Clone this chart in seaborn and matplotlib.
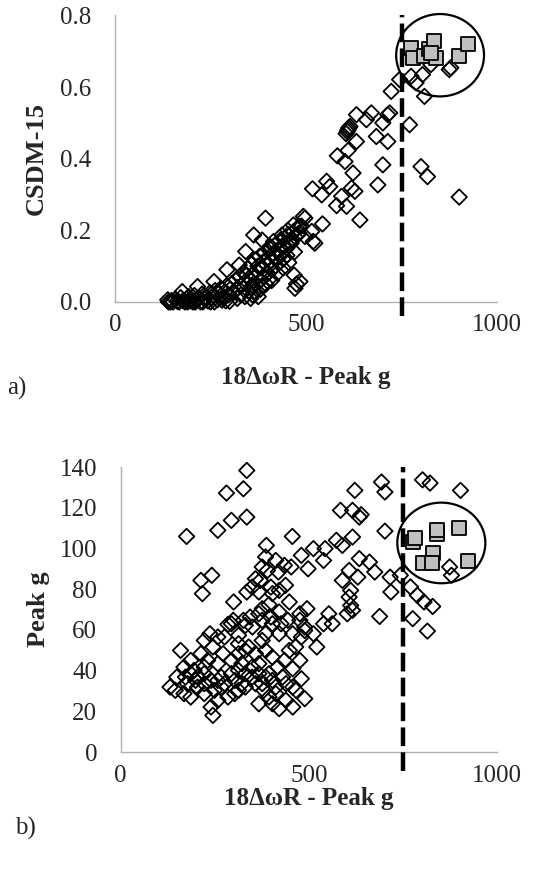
import matplotlib
matplotlib.use('Agg')
import matplotlib.pyplot as plt
import seaborn as sns
import pandas as pd
from matplotlib.patches import Ellipse
from matplotlib.ticker import FormatStrFormatter

# a) CSDM-15 vs 18ΔωR - Peak g
csdm_x = [
    875, 879, 827, 805, 775, 788, 745, 810, 723, 771, 801, 818, 901,
    632, 671, 658, 701, 714, 719, 684, 714, 701, 688, 623, 605, 610, 615, 608, 612,
    632, 582, 610, 602, 517, 554, 562, 541, 619, 628, 593, 580, 606, 641, 497, 543,
    467, 515, 523,
    394, 363, 385, 437, 493, 342, 293, 259, 216, 176, 138, 484, 471, 469, 475, 325,
    406, 415, 483, 478, 452, 461, 441, 497, 519,
    140, 148, 152, 158, 163, 168, 172, 178, 183, 188, 193, 198, 204, 208, 213, 219,
    224, 228, 234, 238, 243, 249, 253, 258, 262, 268, 272, 277, 283, 287, 292, 297,
    302, 306, 311, 317, 321, 326, 331, 336, 339, 344, 348, 353, 357, 362, 366, 371,
    374, 379, 383, 388, 392, 397, 401, 406, 409, 414, 418, 423, 427, 432, 436, 441,
    444, 449, 453, 458, 462, 466, 471, 476, 481, 488,
    330, 350, 360, 370, 380, 390, 400, 410, 420, 430, 440, 450, 360, 380, 395, 410,
    425, 440, 455, 470, 375, 260, 280, 300, 320, 340, 145, 190, 210, 230, 250, 290,
    355, 365, 385, 405,
]
csdm_y = [
    0.649, 0.654, 0.663, 0.635, 0.630, 0.612, 0.621, 0.574, 0.588, 0.495, 0.378, 0.350, 0.293,
    0.523, 0.528, 0.509, 0.500, 0.523, 0.528, 0.462, 0.448, 0.383, 0.327, 0.360, 0.470, 0.481, 0.490, 0.476, 0.486,
    0.448, 0.408, 0.423, 0.392, 0.316, 0.337, 0.322, 0.299, 0.318, 0.309, 0.295, 0.269, 0.267, 0.229, 0.234, 0.218,
    0.215, 0.197, 0.164,
    0.234, 0.187, 0.173, 0.187, 0.239, 0.141, 0.090, 0.057, 0.043, 0.029, 0.006, 0.057, 0.038, 0.075, 0.050, 0.103,
    0.155, 0.169, 0.211, 0.187, 0.200, 0.164, 0.155, 0.183, 0.169,
    0.000, 0.004, 0.000, 0.008, 0.002, 0.000, 0.012, 0.004, 0.000, 0.009, 0.015, 0.003, 0.000, 0.018, 0.006, 0.011,
    0.000, 0.022, 0.008, 0.014, 0.003, 0.026, 0.012, 0.019, 0.032, 0.006, 0.024, 0.038, 0.015, 0.028, 0.045, 0.020,
    0.036, 0.052, 0.028, 0.062, 0.040, 0.070, 0.046, 0.082, 0.055, 0.074, 0.092, 0.062, 0.105, 0.079, 0.118, 0.088,
    0.100, 0.128, 0.095, 0.112, 0.138, 0.104, 0.122, 0.148, 0.115, 0.135, 0.158, 0.125, 0.145, 0.172, 0.136, 0.160,
    0.178, 0.150, 0.188, 0.165, 0.176, 0.195, 0.182, 0.205, 0.192, 0.212,
    0.020, 0.030, 0.045, 0.050, 0.060, 0.070, 0.080, 0.090, 0.100, 0.110, 0.120, 0.130, 0.020, 0.035, 0.050, 0.060,
    0.080, 0.095, 0.110, 0.140, 0.015, 0.000, 0.005, 0.002, 0.010, 0.015, 0.000, 0.000, 0.000, 0.000, 0.000, 0.003,
    0.010, 0.030, 0.045, 0.065,
]
csdm_hi_x = [775, 779, 810, 823, 836, 840, 827, 901, 923]
csdm_hi_y = [0.710, 0.682, 0.686, 0.705, 0.728, 0.682, 0.696, 0.686, 0.719]

# b) Peak g vs 18ΔωR - Peak g
peak_x = [
    335, 326, 281, 294, 335, 258, 175, 213, 242, 217, 300, 456, 387, 376, 385, 412,
    435, 419, 438, 453, 480, 498, 512, 539, 543, 573, 589, 616, 622, 584, 616, 634,
    639, 693, 702, 702, 675, 661, 634, 607, 630, 589, 611, 607, 611, 616, 602, 688,
    553, 562, 539, 716, 718, 743, 770, 788, 806, 829, 776, 815, 802, 822, 903, 874,
    879,
    448, 495, 421, 376, 394, 367, 344, 299, 285, 237, 222, 258, 313, 331, 385, 403,
    426, 457, 489, 480, 521, 465, 448, 435, 476, 457, 417, 394, 367, 358, 340, 313,
    294, 272, 258, 245, 213, 186, 159, 168, 195, 222, 240, 267, 303, 331, 349, 376,
    403, 430, 457, 480, 466, 439, 489, 457, 421, 403, 367, 394, 412, 313, 285, 258,
    245, 240, 222, 204, 177, 149, 131, 145, 168, 186, 172, 204, 186, 222, 231, 313,
    294, 322, 349, 367, 385, 358, 331, 267, 249, 276, 380, 412, 439, 222, 199, 258,
    303, 322, 476, 444, 421, 385, 403, 376, 350, 399, 376, 421, 403, 367, 335, 349,
    371, 390, 358, 399, 326, 294, 276, 313, 331, 476, 489, 512,
]
peak_y = [
    138.3, 129.3, 127.2, 113.8, 115.4, 108.9, 105.9, 84.3, 86.8, 77.8, 73.7, 105.9, 101.5, 90.9, 95.8, 94.1,
    91.7, 88.4, 81.9, 90.9, 96.6, 90.0, 99.9, 94.1, 99.9, 104.0, 101.5, 105.6, 128.5, 118.7, 118.7, 115.4,
    116.6, 132.6, 127.7, 108.5, 88.4, 93.3, 95.0, 89.2, 85.9, 84.3, 79.4, 76.1, 72.0, 69.6, 67.9, 66.6,
    67.9, 63.0, 63.0, 85.9, 78.6, 86.8, 81.1, 77.0, 73.7, 71.5, 65.5, 59.4, 133.7, 132.1, 128.5, 90.9,
    86.8,
    73.7, 70.4, 68.8, 70.4, 72.4, 67.9, 66.3, 64.7, 62.7, 58.1, 54.8, 56.5, 57.3, 62.2, 58.1, 63.0,
    63.0, 58.1, 59.7, 56.5, 51.6, 51.6, 49.9, 45.0, 45.0, 40.9, 41.7, 38.5, 43.4, 48.3, 51.6, 48.3,
    45.0, 48.3, 43.4, 51.6, 48.3, 45.0, 49.9, 41.7, 40.1, 38.5, 35.2, 36.8, 35.2, 38.5, 36.8, 33.6,
    35.2, 36.8, 31.9, 36.0, 30.3, 25.4, 26.2, 22.1, 21.3, 23.7, 23.7, 27.0, 28.7, 30.3, 27.0, 25.4,
    18.0, 22.1, 28.7, 31.9, 33.6, 36.8, 31.9, 30.3, 28.7, 27.0, 36.8, 36.8, 38.5, 41.7, 45.0, 40.1,
    38.5, 43.4, 41.7, 38.5, 36.8, 33.6, 31.9, 31.9, 30.3, 33.6, 30.3, 31.9, 33.6, 33.6, 35.2, 35.2,
    28.7, 33.6, 64.7, 64.7, 58.1, 49.9, 46.6, 54.8, 61.4, 66.3, 64.7, 79.4, 77.8, 78.6, 78.6, 81.0,
    84.3, 89.2, 85.1, 81.0, 64.7, 63.0, 56.5, 53.2, 49.9, 67.9, 61.4, 58.1,
]
peak_hi_x = [778, 781, 840, 840, 899, 831, 804, 828, 924]
peak_hi_y = [103.3, 105.0, 107.0, 109.0, 110.2, 97.9, 92.7, 92.7, 94.0]

threshold = 750

sns.set_style('white')
plt.rcParams['font.family'] = ['Liberation Serif', 'DejaVu Serif']

fig = plt.figure(figsize=(5.33, 8.69), dpi=100)
ax1 = fig.add_axes([0.2158, 0.6525, 0.7167, 0.3297])
ax2 = fig.add_axes([0.2265, 0.1346, 0.706, 0.328])


def draw_panel(ax, x, y, hx, hy, ylim, ystep, yfmt, ylabel, ell, ylab_x, xlab_y, dash_min):
    df = pd.DataFrame({'x': x, 'y': y})
    hi = pd.DataFrame({'x': hx, 'y': hy})
    sns.scatterplot(data=df, x='x', y='y', marker='D', s=62, facecolor='none',
                    edgecolor='black', linewidth=1.3, ax=ax, clip_on=False, zorder=3)
    sns.scatterplot(data=hi, x='x', y='y', marker='s', s=105, color='#c0c0c0',
                    edgecolor='black', linewidth=1.3, ax=ax, clip_on=False, zorder=4)
    ax.axvline(threshold, ymin=dash_min, ymax=1, color='black', lw=3.2,
               linestyle=(0, (4.2, 1.4)), clip_on=False, zorder=5)
    ax.add_patch(Ellipse(ell[:2], 2 * ell[2], 2 * ell[3], fill=False,
                         edgecolor='black', lw=1.6, clip_on=False, zorder=6))
    ax.set_xlim(0, 1000)
    ax.set_ylim(*ylim)
    ax.set_xticks([0, 500, 1000])
    ax.set_yticks([ylim[0] + i * ystep for i in range(int(round((ylim[1] - ylim[0]) / ystep)) + 1)])
    ax.yaxis.set_major_formatter(FormatStrFormatter(yfmt))
    ax.tick_params(length=0, labelsize=18)
    ax.tick_params(axis='y', pad=17)
    ax.tick_params(axis='x', pad=9)
    sns.despine(ax=ax)
    for side in ['left', 'bottom']:
        ax.spines[side].set_color('#b0b0b0')
        ax.spines[side].set_linewidth(1.0)
    ax.set_xlabel('18ΔωR - Peak g', fontsize=18, fontweight='bold')
    ax.set_ylabel(ylabel, fontsize=19, fontweight='bold')
    ax.xaxis.label.set_va('center')
    ax.yaxis.label.set_va('center')
    ax.xaxis.set_label_coords(0.5, xlab_y)
    ax.yaxis.set_label_coords(ylab_x, 0.5)


draw_panel(ax1, csdm_x, csdm_y, csdm_hi_x, csdm_hi_y, (0, 0.8), 0.2, '%.1f',
           'CSDM-15', (851, 0.689, 115, 0.115), -0.207, -0.262, -0.05)
draw_panel(ax2, peak_x, peak_y, peak_hi_x, peak_hi_y, (0, 140), 20, '%d',
           'Peak g', (852, 102.7, 117, 19.8), -0.218, -0.162, -0.065)

fig.text(7 / 533, 1 - 388 / 869, 'a)', fontsize=18, va='center', ha='left')
fig.text(15 / 533, 1 - 828 / 869, 'b)', fontsize=18, va='center', ha='left')

fig.savefig('out.png', dpi=100)
